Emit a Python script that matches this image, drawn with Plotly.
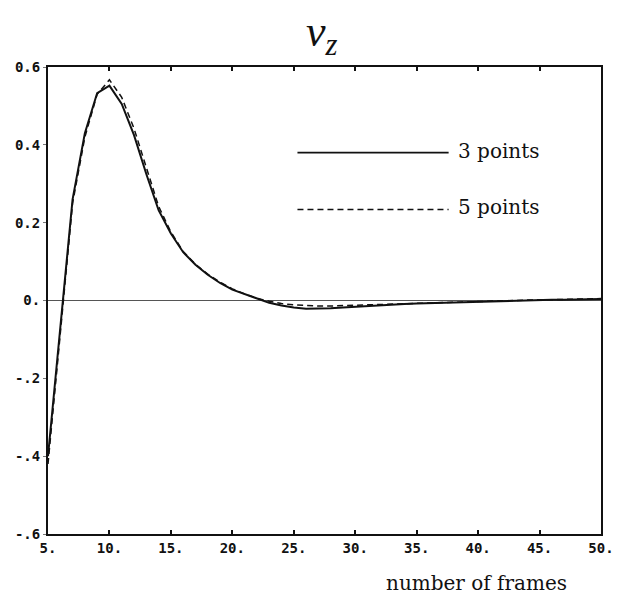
import plotly.graph_objects as go

# Frame index and smoothed z-velocity estimates
frames = list(range(5, 51))

vz_3pt = [-0.40, -0.07, 0.26, 0.43, 0.533, 0.552, 0.505, 0.425, 0.325, 0.232,
          0.172, 0.124, 0.092, 0.066, 0.045, 0.028, 0.016, 0.004, -0.006, -0.013,
          -0.018, -0.021, -0.021, -0.020, -0.018, -0.016, -0.014, -0.012, -0.010, -0.009,
          -0.008, -0.007, -0.006, -0.005, -0.004, -0.003, -0.002, -0.001, 0.000, 0.001,
          0.001, 0.002, 0.002, 0.003, 0.003, 0.004]

vz_5pt = [-0.42, -0.09, 0.25, 0.42, 0.53, 0.567, 0.522, 0.442, 0.342, 0.242,
          0.176, 0.126, 0.093, 0.068, 0.047, 0.030, 0.017, 0.006, -0.002, -0.008,
          -0.011, -0.013, -0.014, -0.014, -0.013, -0.012, -0.011, -0.010, -0.009, -0.008,
          -0.007, -0.006, -0.005, -0.004, -0.004, -0.003, -0.002, -0.001, 0.000, 0.001,
          0.002, 0.002, 0.003, 0.004, 0.004, 0.005]

x_ticks = [5, 10, 15, 20, 25, 30, 35, 40, 45, 50]
x_tick_text = ["5.", "10.", "15.", "20.", "25.", "30.", "35.", "40.", "45.", "50."]
y_ticks = [-0.6, -0.4, -0.2, 0.0, 0.2, 0.4, 0.6]
y_tick_text = ["-.6", "-.4", "-.2", "0.", "0.2", "0.4", "0.6"]

series_names = ["3 points", "5 points"]

INK = "#111111"
tick_font = dict(family="DejaVu Sans Mono", size=14, color=INK, weight="bold")
serif = "DejaVu Serif"

fig = go.Figure()

# zero reference line
fig.add_trace(go.Scatter(x=[frames[0], frames[-1]], y=[0, 0], mode="lines",
                         line=dict(color="#555555", width=1), showlegend=False,
                         hoverinfo="skip"))

fig.add_trace(go.Scatter(x=frames, y=vz_3pt, mode="lines", name=series_names[0],
                         line=dict(color=INK, width=2), showlegend=False))
fig.add_trace(go.Scatter(x=frames, y=vz_5pt, mode="lines", name=series_names[1],
                         line=dict(color=INK, width=1.5, dash="6px,4px"), showlegend=False))

# key drawn inside the plot area
key_x0, key_x1 = 25.3, 37.6
key_y = [0.38, 0.234]
key_dash = ["solid", "6px,4px"]
key_width = [1.8, 1.6]
for name, ky, dash, w in zip(series_names, key_y, key_dash, key_width):
    fig.add_shape(type="line", xref="x", yref="y", x0=key_x0, x1=key_x1, y0=ky, y1=ky,
                  line=dict(color=INK, width=w, dash=dash))
    fig.add_annotation(x=key_x1 + 0.6, y=ky + 0.005, xref="x", yref="y", text=name,
                       showarrow=False, xanchor="left", yanchor="middle",
                       font=dict(family=serif, size=20, color=INK))

# title v_z
fig.add_annotation(x=0.496, y=1.07, xref="paper", yref="paper",
                   text="<i>v</i><sub><i>z</i></sub>", showarrow=False,
                   xanchor="center", yanchor="middle",
                   font=dict(family="Liberation Serif", size=44, color=INK))

# x axis caption
fig.add_annotation(x=0.775, y=-0.105, xref="paper", yref="paper",
                   text="number of frames", showarrow=False,
                   xanchor="center", yanchor="middle",
                   font=dict(family=serif, size=20, color=INK))

fig.update_xaxes(range=[5, 50], tickvals=x_ticks, ticktext=x_tick_text,
                 tickfont=tick_font, showgrid=False, zeroline=False,
                 showline=True, linecolor=INK, linewidth=2, mirror="ticks",
                 ticks="inside", ticklen=4, tickwidth=1.5, tickcolor=INK)
fig.update_yaxes(range=[-0.6, 0.6], tickvals=y_ticks, ticktext=y_tick_text,
                 tickfont=tick_font, showgrid=False, zeroline=False,
                 showline=True, linecolor=INK, linewidth=2, mirror=True,
                 ticks="outside", ticklen=3, tickwidth=1, tickcolor="#777777")

fig.update_layout(width=626, height=604,
                  margin=dict(l=48, r=18, t=67, b=70),
                  paper_bgcolor="white", plot_bgcolor="white",
                  showlegend=False)

fig.write_html("out.html")
